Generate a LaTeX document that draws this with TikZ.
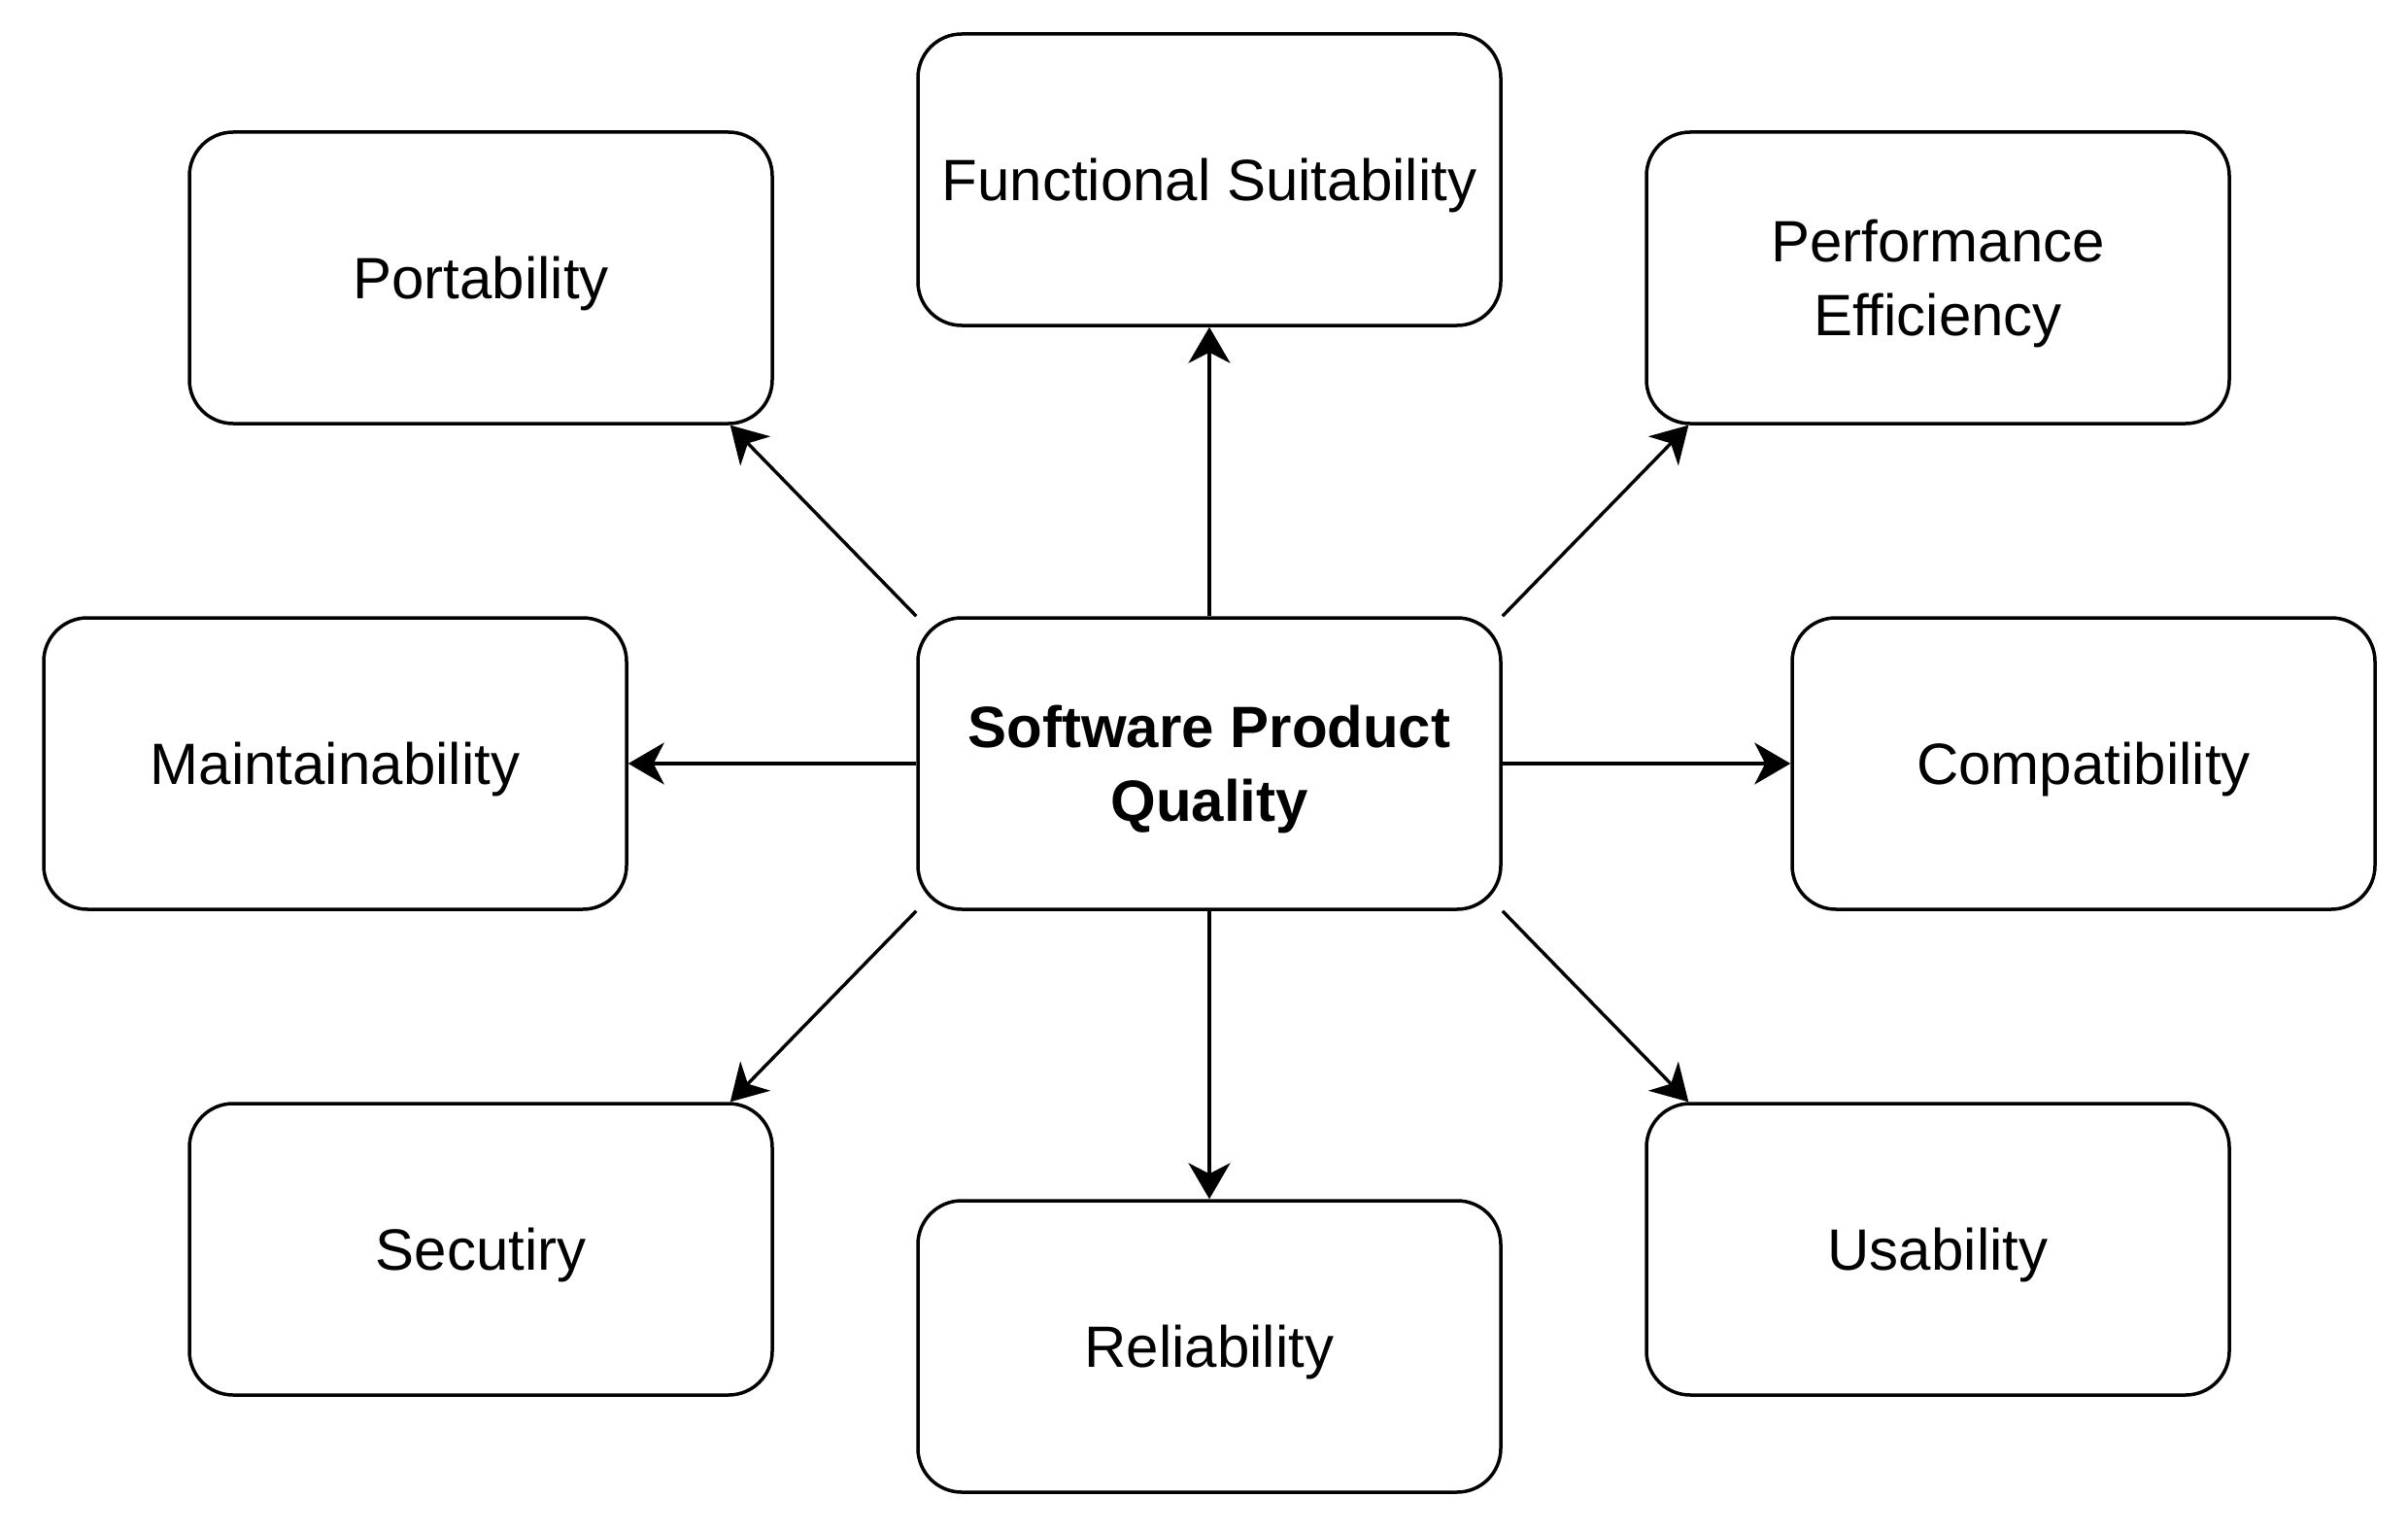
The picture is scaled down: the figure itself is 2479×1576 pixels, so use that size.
\documentclass[tikz,border=0pt]{standalone}
\usepackage{fontspec}
\setmainfont{Liberation Sans}
\usetikzlibrary{arrows.meta}
\begin{document}
\begin{tikzpicture}[x=1pt,y=-1pt,
  box/.style={draw=black, line width=3.5pt, rounded corners=45pt,
    minimum width=600pt, minimum height=300pt, inner sep=0pt},
  txt/.style={align=center, inner sep=0pt, font=\fontsize{60}{76}\selectfont},
  conn/.style={draw=black, line width=3.4pt,
    -{Stealth[length=37pt, width=43pt, inset=11pt]}}]
\fill[white] (0,0) rectangle (2479,1576);
\useasboundingbox (0,0) rectangle (2479,1576);

\node[box] (c) at (1245,786) {};
\node[box] (fs) at (1245,185) {};
\node[box] (port) at (495,286) {};
\node[box] (perf) at (1995,286) {};
\node[box] (maint) at (345,786) {};
\node[box] (compat) at (2145,786) {};
\node[box] (sec) at (495,1286) {};
\node[box] (rel) at (1245,1386) {};
\node[box] (usab) at (1995,1286) {};

\node[txt] (tc) at ([yshift=-6pt]c.center) {\textbf{Software Product}\\\textbf{Quality}};
\node[txt] (tfs) at ([yshift=-6pt]fs.center) {Functional Suitability};
\node[txt] (tport) at ([yshift=-6pt]port.center) {Portability};
\node[txt] (tperf) at ([yshift=-6pt]perf.center) {Performance\\Efficiency};
\node[txt] (tmaint) at ([yshift=-6pt]maint.center) {Maintainability};
\node[txt] (tcompat) at ([yshift=-6pt]compat.center) {Compatibility};
\node[txt] (tsec) at ([yshift=-6pt]sec.center) {Secutiry};
\node[txt] (trel) at ([yshift=-6pt]rel.center) {Reliability};
\node[txt] (tusab) at ([yshift=-6pt]usab.center) {Usability};

\draw[conn] (c.north) -- (fs.south);
\draw[conn] (c.south) -- (rel.north);
\draw[conn] (c.west) -- (maint.east);
\draw[conn] (c.east) -- (compat.west);
\draw[conn] (c.north west) -- ([xshift=-45pt]port.south east);
\draw[conn] (c.north east) -- ([xshift=45pt]perf.south west);
\draw[conn] (c.south west) -- ([xshift=-45pt]sec.north east);
\draw[conn] (c.south east) -- ([xshift=45pt]usab.north west);
\end{tikzpicture}
\end{document}
